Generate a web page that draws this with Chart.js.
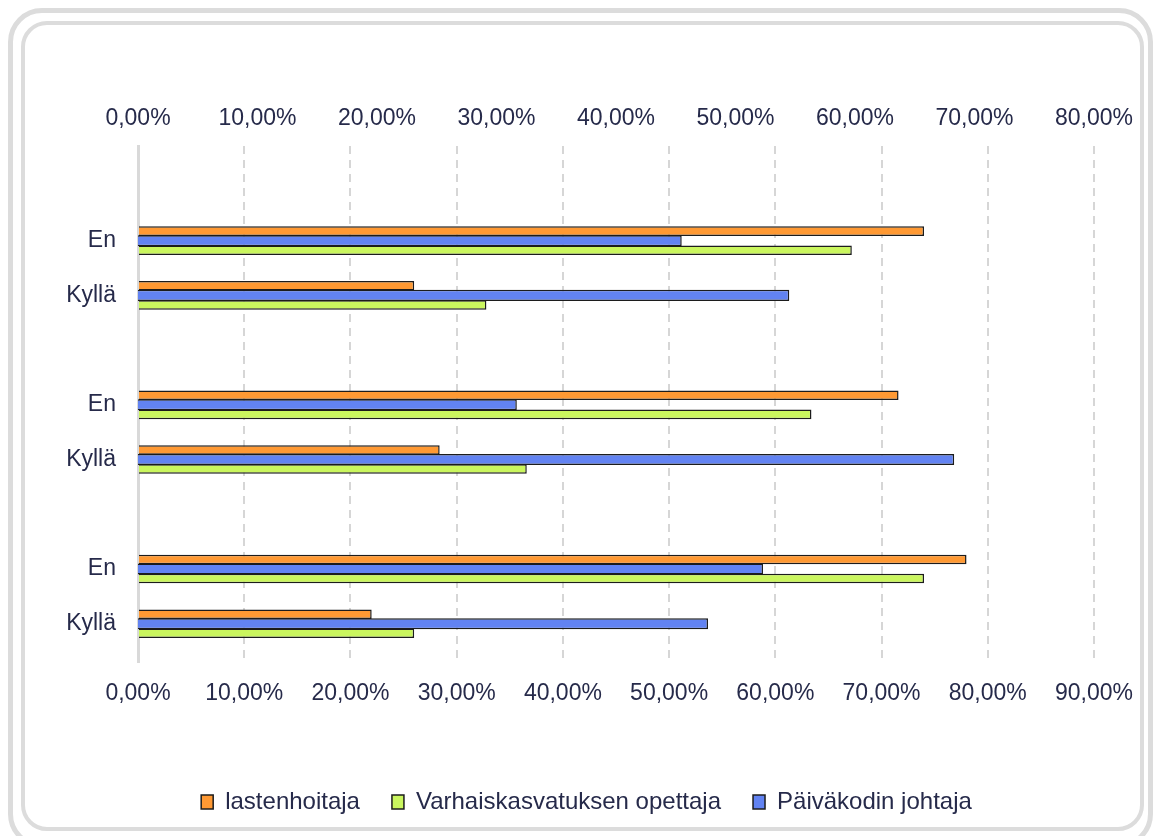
<!DOCTYPE html>
<html>
<head>
<meta charset="utf-8">
<script src="https://cdn.jsdelivr.net/npm/chart.js@4/dist/chart.umd.min.js"></script>
<style>
    html, body { margin: 0; padding: 0; background: #fff; }
    body { width: 1157px; height: 836px; position: relative; overflow: hidden; }
    .frame-out { position: absolute; left: 8px; top: 8px; width: 1135px; height: 830px; border: 5px solid #dcdcdc; border-radius: 34px; }
    .frame-in { position: absolute; left: 21px; top: 21px; width: 1115px; height: 802px; border: 4px solid #dcdcdc; border-radius: 26px; }
    #chart-wrap { position: absolute; left: 0; top: 0; width: 1157px; height: 836px; }
</style>
</head>
<body>
<div class="frame-out"></div>
<div class="frame-in"></div>
<div id="chart-wrap"><canvas id="c"></canvas></div>
<script>
// Kolme ryhmää (En / Kyllä), tyhjä rivi ryhmien välissä.
const categories = ['En', 'Kyllä', '', 'En', 'Kyllä', '', 'En', 'Kyllä'];

// Arvot prosentteina; Päiväkodin johtaja luetaan ylä-akselilta (0–80 %).
const lastenhoitaja = [74.0, 26.0, null, 71.6, 28.4, null, 78.0, 22.0];
const opettaja      = [67.2, 32.8, null, 63.4, 36.6, null, 74.0, 26.0];
const johtaja       = [45.5, 54.5, null, 31.7, 68.3, null, 52.3, 47.7];

const bottomTicks = [0, 10, 20, 30, 40, 50, 60, 70, 80, 90];
const topTicks    = [0, 10, 20, 30, 40, 50, 60, 70, 80];

const C = { orange: '#FF9933', green: '#CAF65E', blue: '#6283F2', edge: '#1c1c1c', text: '#262a4a', grid: '#d6d6d6', axis: '#d9d9d9' };
const FONT = "'Liberation Sans', Arial, sans-serif";

const pct = (v) => v.toFixed(2).replace('.', ',') + '%';
const rows = categories.map((_, i) => i);

const setTicks = (list) => (scale) => { scale.ticks = list.map((v) => ({ value: v })); };

// Palkit ryhmittyvät järjestyksessä (order): oranssi ylin, sininen keskellä, vihreä alin.
const bar = { borderColor: C.edge, borderWidth: 1.5, categoryPercentage: 0.523, yAxisID: 'y' };

new Chart(document.getElementById('c'), {
    type: 'bar',
    data: {
        labels: rows,
        datasets: [
            { ...bar, label: 'lastenhoitaja', data: lastenhoitaja, xAxisID: 'x', order: 0,
              backgroundColor: C.orange, barPercentage: 1.0 },
            { ...bar, label: 'Varhaiskasvatuksen opettaja', data: opettaja, xAxisID: 'x', order: 2,
              backgroundColor: C.green, barPercentage: 1.0 },
            { ...bar, label: 'Päiväkodin johtaja', data: johtaja, xAxisID: 'x2', order: 1,
              backgroundColor: C.blue, barPercentage: 1.16 },
        ],
    },
    options: {
        indexAxis: 'y',
        responsive: true, maintainAspectRatio: false, animation: false,
        layout: { padding: { left: 16, top: 0, right: 0, bottom: 12 } },
        plugins: {
            tooltip: { enabled: false },
            legend: {
                position: 'bottom',
                labels: {
                    boxWidth: 12, boxHeight: 14, padding: 32, color: C.text,
                    font: { family: FONT, size: 24 },
                    sort: (a, b) => a.datasetIndex - b.datasetIndex,
                },
            },
        },
        scales: {
            x: {
                position: 'bottom', min: 0, max: 90,
                afterBuildTicks: setTicks(bottomTicks),
                afterFit: (s) => { s.height = 96; },
                grid: { color: C.grid, lineWidth: 2, drawTicks: false },
                border: { display: false, dash: [8, 6] },
                ticks: { padding: 18, color: C.text, font: { family: FONT, size: 23 }, callback: (v) => pct(v), maxRotation: 0, autoSkip: false },
            },
            x2: {
                position: 'top', min: 0, max: 80,
                afterBuildTicks: setTicks(topTicks),
                afterFit: (s) => { s.height = 146; },
                grid: { display: false, drawTicks: false },
                border: { display: false },
                ticks: { padding: 14, color: C.text, font: { family: FONT, size: 23 }, callback: (v) => pct(v), maxRotation: 0, autoSkip: false },
            },
            // rivit linear-akselilla, jotta yläreunaan jää sama tyhjä tila kuin alkuperäisessä
            y: {
                type: 'linear', position: 'left', reverse: true, min: -1.73, max: 7.70, offset: false, bounds: 'data',
                afterBuildTicks: setTicks(rows.filter((i) => categories[i])),
                afterFit: (s) => { s.width = 122; },
                grid: { display: false, offset: false, drawTicks: false },
                border: { display: true, color: C.axis, width: 3 },
                ticks: { padding: 22, color: C.text, font: { family: FONT, size: 23 }, callback: (v) => categories[v] || '' },
            },
            // tyhjä tila oikealla (pitää selitteen keskitettynä)
            yR: {
                type: 'linear', position: 'right',
                afterFit: (s) => { s.width = 63; },
                grid: { display: false, drawTicks: false },
                border: { display: false },
                ticks: { display: false },
            },
        },
    },
});
</script>
</body>
</html>
